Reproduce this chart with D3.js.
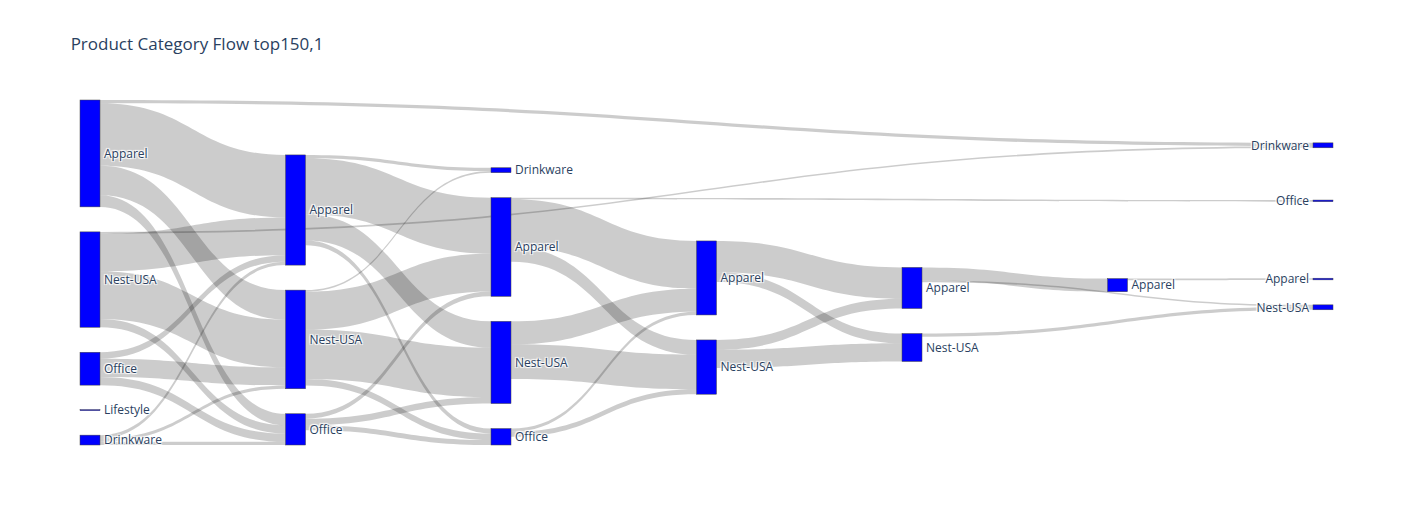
<!DOCTYPE html>
<html><head><meta charset="utf-8">
<script src="https://cdn.jsdelivr.net/npm/d3@7"></script>
<style>
body{margin:0;background:#fff}
text{font-family:"Open Sans",verdana,arial,sans-serif}
.lbl{text-shadow:1px 1px 1px #fff,-1px -1px 1px #fff,1px -1px 1px #fff,-1px 1px 1px #fff}
</style>
</head><body>
<svg id="chart" width="1413" height="525"></svg>
<script>
// ---- data ----
const title = "Product Category Flow top150,1";
const nodeLabels = ["Apparel","Nest-USA","Office","Lifestyle","Drinkware",
  "Apparel","Nest-USA","Office",
  "Drinkware","Apparel","Nest-USA","Office",
  "Apparel","Nest-USA",
  "Apparel","Nest-USA",
  "Apparel",
  "Drinkware","Office","Apparel","Nest-USA"];
const nodeStep = [0,0,0,0,0, 1,1,1, 2,2,2,2, 3,3, 4,4, 5, 6,6,6,6];
const linkSource = [0,0,0,0, 1,1,1,1, 2,2,2, 4,4,4, 5,5,5,5, 6,6,6,6, 7,7,7, 9,9,9, 10,10, 11,11, 12,12, 13,13, 14,14, 15, 16];
const linkTarget = [17,5,6,7, 17,5,6,7, 5,6,7, 5,6,7, 8,9,10,11, 8,9,10,11, 9,10,11, 18,12,13, 12,13, 12,13, 14,15, 14,15, 16,20, 20, 19];
const linkValue  = [2,38,18,7, 1,23,29,5, 4,11,5, 2,2,2, 2,34,16,3, 1,23,30,4, 3,4,3, 1,29,9, 14,21, 2,3, 19,6, 6,11, 8,1, 2, 1];

// ---- layout ----
const W = 1413, H = 525;
const margin = {l:80, r:80, t:100, b:80};
const nodeWidth = 20, nodePad = 25, iterations = 50;
const x0e = margin.l, x1e = W - margin.r, y0e = margin.t, y1e = H - margin.b;

const nodes = nodeLabels.map((name,i)=>({name, layer:nodeStep[i], index:i, sourceLinks:[], targetLinks:[]}));
const links = linkValue.map((v,i)=>({value:v, index:i, source:nodes[linkSource[i]], target:nodes[linkTarget[i]]}));
links.forEach(l=>{l.source.sourceLinks.push(l); l.target.targetLinks.push(l);});
nodes.forEach(n=>{ n.value = Math.max(d3.sum(n.sourceLinks,l=>l.value), d3.sum(n.targetLinks,l=>l.value)); });

const nSteps = d3.max(nodeStep) + 1;
const xScale = d3.scaleLinear().domain([0, nSteps-1]).range([x0e, x1e - nodeWidth]);
nodes.forEach(n=>{ n.x0 = xScale(n.layer); n.x1 = n.x0 + nodeWidth; });

const columns = d3.range(nSteps).map(s=>nodes.filter(n=>n.layer===s));
const py = nodePad;
const ky = d3.min(columns, c => (y1e - y0e - (c.length-1)*py) / d3.sum(c, n=>n.value));
const vScale = d3.scaleLinear().domain([0,1]).range([0, ky]);
links.forEach(l=>{ l.width = vScale(l.value); });

const byBreadth = (a,b)=>a.y0-b.y0;
const srcBreadth = (a,b)=>byBreadth(a.source,b.source) || a.index-b.index;
const tgtBreadth = (a,b)=>byBreadth(a.target,b.target) || a.index-b.index;
function reorderLinks(){ nodes.forEach(n=>{ n.sourceLinks.sort(tgtBreadth); n.targetLinks.sort(srcBreadth); }); }
const center = n => (n.y0 + n.y1)/2;

// initial: stacked, free space spread evenly
columns.forEach(c=>{
  let y = y0e;
  c.forEach(n=>{ n.y0=y; n.y1=y+vScale(n.value); y=n.y1+py; });
  const sp = (y1e - y + py)/(c.length+1);
  c.forEach((n,i)=>{ n.y0+=sp*(i+1); n.y1+=sp*(i+1); });
});

function targetTop(l){
  let y = l.source.y0;
  for (const o of l.source.sourceLinks){ if (o===l) break; y += o.width; }
  for (const o of l.target.targetLinks){ if (o===l) break; y -= o.width; }
  return y;
}
function resolveCollisions(){
  columns.forEach(c=>{
    let y = y0e, node, dy;
    for (let i=0;i<c.length;i++){ node=c[i]; dy=y-node.y0; if(dy>0){node.y0+=dy;node.y1+=dy;} y=node.y1+py; }
    dy = y - py - y1e;
    if (dy>0){
      y = (node.y0 -= dy); node.y1 -= dy;
      for (let i=c.length-2;i>=0;i--){ node=c[i]; dy=node.y1+py-y; if(dy>0){node.y0-=dy;node.y1-=dy;} y=node.y0; }
    }
  });
}
function relaxLeftToRight(alpha){
  columns.forEach(c=>c.forEach(n=>{
    if(!n.targetLinks.length) return;
    const w = d3.sum(n.targetLinks, l=>l.value);
    let dy;
    if (!n.sourceLinks.length) { // end of a path: line up with the incoming links
      dy = (d3.sum(n.targetLinks, l=>targetTop(l)*l.value)/w - n.y0)*alpha;
    } else {
      dy = (d3.sum(n.targetLinks, l=>center(l.source)*l.value)/w - center(n))*alpha;
    }
    n.y0+=dy; n.y1+=dy;
  }));
}
function relaxRightToLeft(alpha){
  columns.slice().reverse().forEach(c=>c.forEach(n=>{
    if(!n.sourceLinks.length) return;
    const dy = (d3.sum(n.sourceLinks, l=>center(l.target)*l.value)/d3.sum(n.sourceLinks, l=>l.value) - center(n))*alpha;
    n.y0+=dy; n.y1+=dy;
  }));
}
resolveCollisions(); reorderLinks();
for (let alpha=1, k=iterations; k>0; --k){
  relaxRightToLeft(alpha*=0.99); resolveCollisions(); reorderLinks();
  relaxLeftToRight(alpha); resolveCollisions(); reorderLinks();
}
nodes.forEach(n=>{
  let ya=n.y0, yb=n.y0;
  n.sourceLinks.forEach(l=>{ l.y0 = ya + l.width/2; ya += l.width; });
  n.targetLinks.forEach(l=>{ l.y1 = yb + l.width/2; yb += l.width; });
});

// ---- draw ----
const svg = d3.select("#chart");
svg.append("rect").attr("width",W).attr("height",H).attr("fill","#fff");

function linkPath(l){
  const xa=l.source.x1, xb=l.target.x0, xi=d3.interpolateNumber(xa,xb), c1=xi(0.5), c2=xi(0.5);
  const y0a=l.y0-l.width/2, y0b=l.y0+l.width/2, y1a=l.y1-l.width/2, y1b=l.y1+l.width/2;
  return `M${xa},${y0a}C${c1},${y0a} ${c2},${y1a} ${xb},${y1a}L${xb},${y1b}C${c2},${y1b} ${c1},${y0b} ${xa},${y0b}Z`;
}
svg.append("g").selectAll("path").data(links).join("path")
  .attr("d", linkPath).attr("fill","rgba(0,0,0,0.2)");

const ng = svg.append("g").selectAll("g").data(nodes).join("g");
ng.append("rect")
  .attr("x", d=>d.x0).attr("y", d=>d.y1-d.y0 < 1 ? center(d)-0.5 : d.y0)
  .attr("width", nodeWidth).attr("height", d=>Math.max(1, d.y1-d.y0))
  .attr("fill","rgb(0,0,255)").attr("stroke","#444").attr("stroke-width",0.5);
ng.append("text").attr("class","lbl")
  .attr("x", d=> d.layer===nSteps-1 ? d.x0-4 : d.x1+4)
  .attr("y", d=>center(d)).attr("dy","0.35em")
  .attr("text-anchor", d=> d.layer===nSteps-1 ? "end" : "start")
  .attr("font-size",12).attr("fill","#2a3f5f")
  .text(d=>d.name);

svg.append("text").attr("x", W*0.05).attr("y", 50)
  .attr("font-size",17).attr("fill","#2a3f5f").text(title);
</script>
</body></html>
